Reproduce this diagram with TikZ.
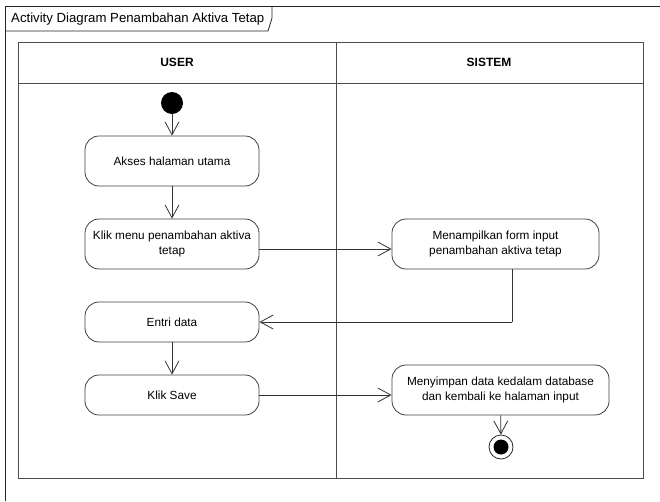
\documentclass[tikz,border=0pt]{standalone}
\usepackage{fontspec}
\setmainfont{Liberation Sans}
\usetikzlibrary{arrows.meta,calc}
\begin{document}
\begin{tikzpicture}[x=1pt,y=-1pt,
  frameline/.style={draw=black!85, line width=0.8pt},
  laneline/.style={draw=black!70, line width=0.8pt},
  action/.style={rectangle, rounded corners=14pt, draw=black!75, line width=0.8pt,
    fill=white, align=center, font=\fontsize{11.8}{15}\selectfont, inner sep=0pt},
  header/.style={font=\bfseries\fontsize{12}{14}\selectfont},
  flow/.style={draw=black!80, line width=0.8pt,
    -{Straight Barb[length=13pt,width=14pt,line width=0.8pt]}},
  link/.style={draw=black!80, line width=0.8pt}]
\useasboundingbox (0,0) rectangle (660,501);
\fill[white] (0,0) rectangle (660,501);

% diagram frame and name tab
\draw[frameline] (5,501) -- (5,6) -- (660,6);
\draw[frameline] (272,6) -- (272,18) -- (268,31) -- (5,31);
\node[anchor=west, font=\fontsize{13.2}{15}\selectfont, inner sep=0pt] (title) at (11,19)
  {Activity Diagram Penambahan Aktiva Tetap};

% swimlanes
\draw[laneline] (18,42) rectangle (643,478);
\draw[laneline] (18,83) -- (643,83);
\draw[laneline] (336,42) -- (336,478);
\node[header] (user) at (177,62) {USER};
\node[header] (sistem) at (489,62) {SISTEM};

% actions
\node[circle, fill=black, minimum size=22pt, inner sep=0pt] (start) at (172,103) {};
\node[action, minimum width=174pt, minimum height=50pt] (akses) at (172,161) {Akses halaman utama};
\node[action, minimum width=174pt, minimum height=50pt] (klikmenu) at (172,244)
  {Klik menu penambahan aktiva\\tetap};
\node[action, minimum width=207pt, minimum height=50pt] (tampil) at (495.5,244)
  {Menampilkan form input\\penambahan aktiva tetap};
\node[action, minimum width=174pt, minimum height=40pt] (entri) at (172,322) {Entri data};
\node[action, minimum width=174pt, minimum height=40pt] (save) at (172,395) {Klik Save};
\node[action, minimum width=217pt, minimum height=50pt] (simpan) at (500.5,390)
  {Menyimpan data kedalam database\\dan kembali ke halaman input};
\node[circle, draw=black!85, line width=0.8pt, fill=white, minimum size=24pt, inner sep=0pt]
  (end) at (501,447) {};
\fill[black] (end.center) circle[radius=7.5pt];

% connector end points
\coordinate (kmout) at ($(klikmenu.east)+(0,5)$);
\coordinate (tpin) at (kmout -| tampil.west);
\coordinate (tpout) at ($(tampil.south)+(16.5,0)$);
\coordinate (bend) at (tpout |- entri.east);
\coordinate (smin) at (save.east -| simpan.west);

% control flows
\draw[flow] (start) -- (akses);
\draw[flow] (akses) -- (klikmenu);
\draw[flow] (kmout) -- (tpin);
\draw[link] (tpout) -- (bend);
\draw[flow] (bend) -- (entri.east);
\draw[flow] (entri) -- (save);
\draw[flow] (save.east) -- (smin);
\draw[flow] (simpan) -- (end);
\end{tikzpicture}
\end{document}
